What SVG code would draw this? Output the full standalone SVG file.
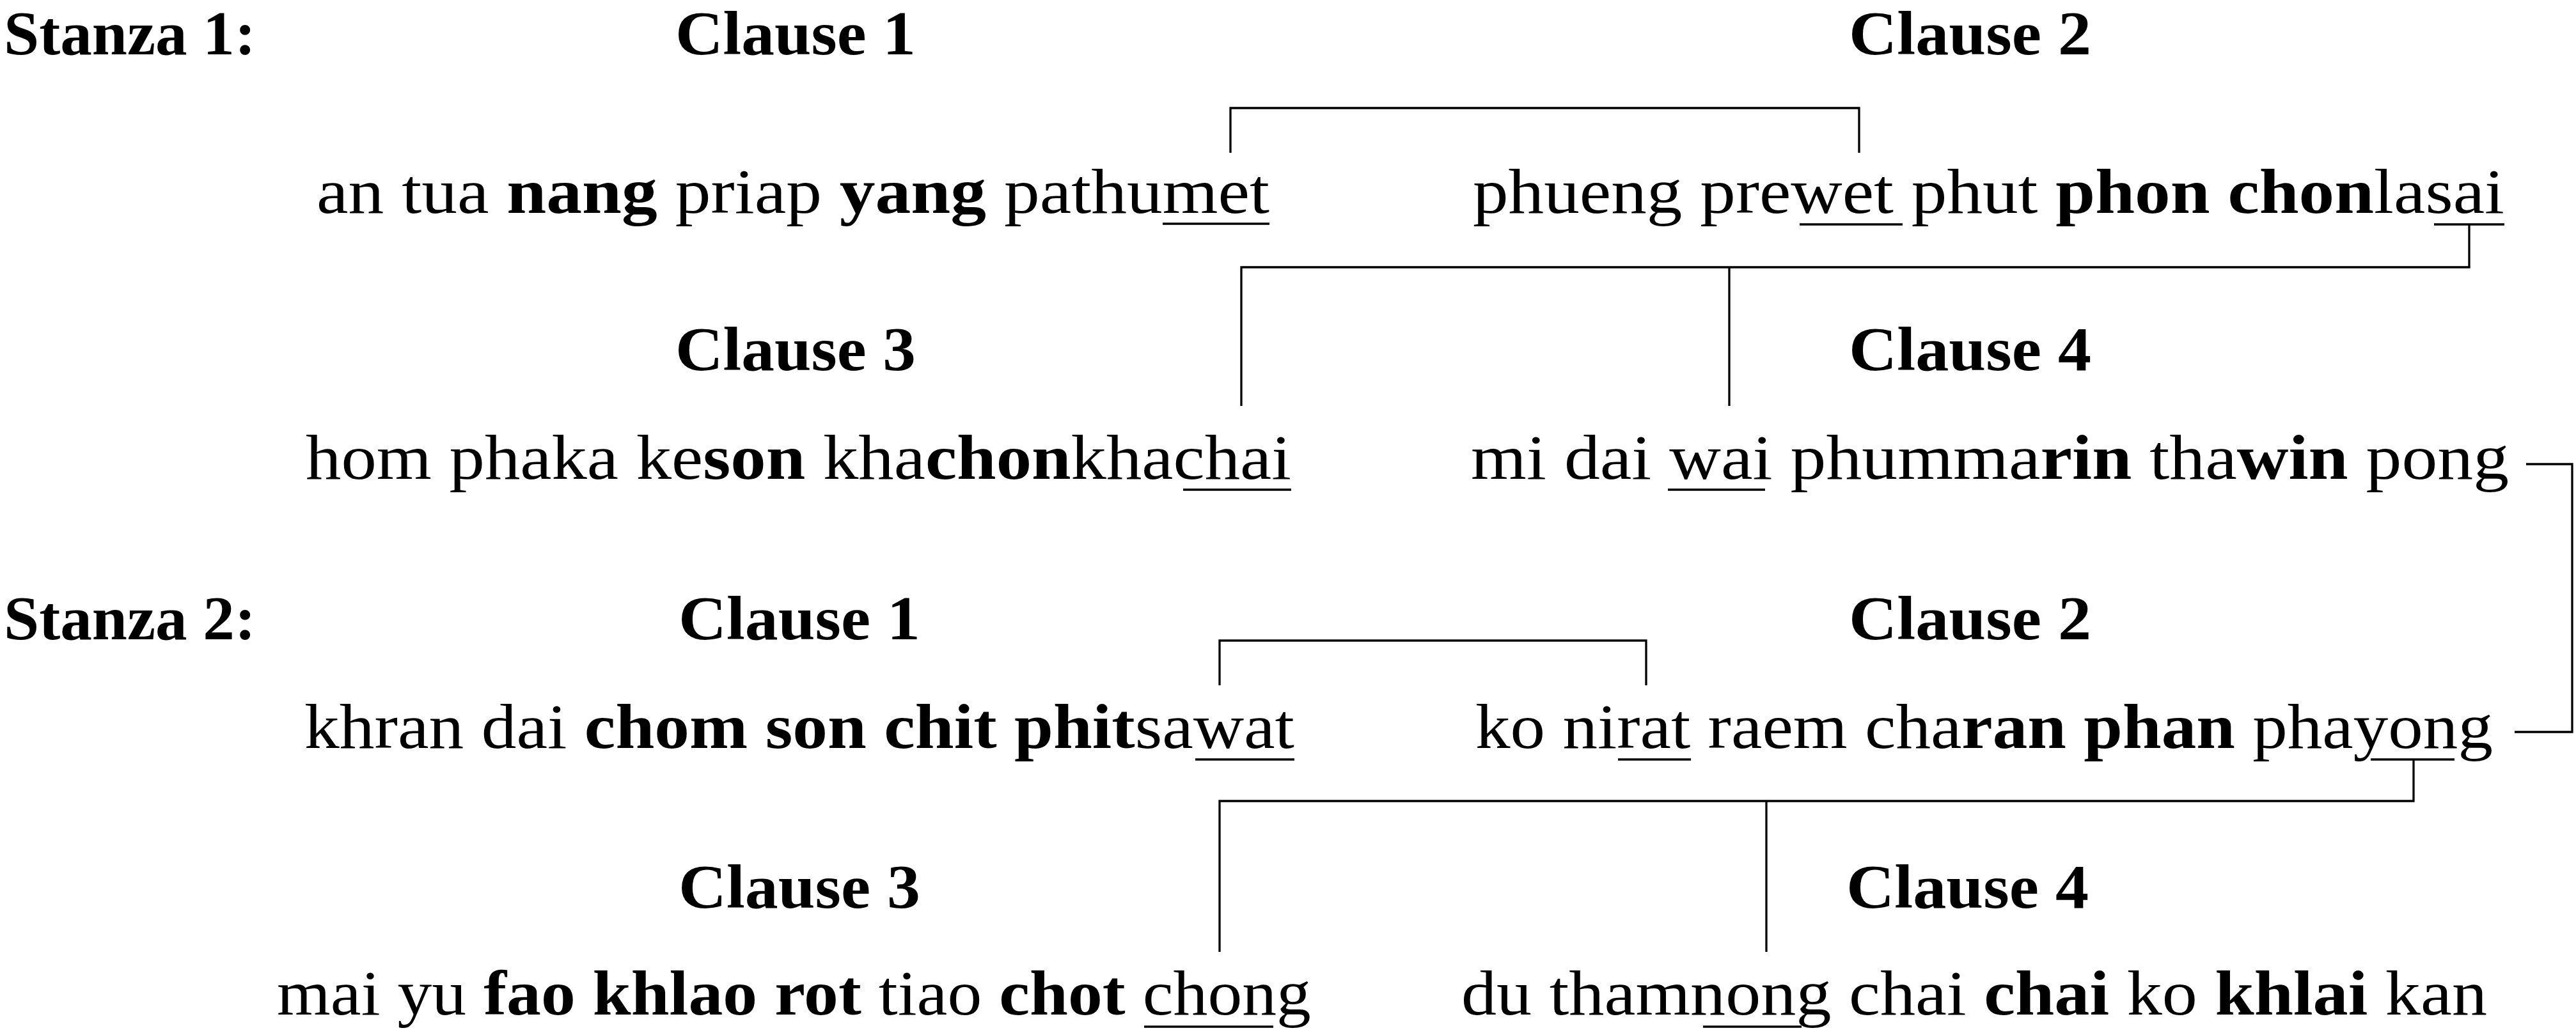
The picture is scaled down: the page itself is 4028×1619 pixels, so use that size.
<svg xmlns="http://www.w3.org/2000/svg" width="4028" height="1619" viewBox="0 0 4028 1619">
<style>
text{font-family:"Liberation Serif","Times New Roman",serif;fill:#000}
.h{font-size:98px;font-weight:bold}
.t{font-size:100px}
.b{font-weight:bold}
.ln{fill:none;stroke:#000;stroke-width:3.3;stroke-linecap:butt;stroke-linejoin:miter}
.ul{stroke:#000;stroke-width:3.5}
</style>
<rect width="4028" height="1619" fill="#fff"/>
<g id="headings">
<text class="h" x="6" y="85" textLength="394" lengthAdjust="spacingAndGlyphs">Stanza 1:</text>
<text class="h" x="1056" y="85" textLength="376" lengthAdjust="spacingAndGlyphs">Clause 1</text>
<text class="h" x="2891" y="85" textLength="379" lengthAdjust="spacingAndGlyphs">Clause 2</text>
<text class="h" x="1056" y="579" textLength="376" lengthAdjust="spacingAndGlyphs">Clause 3</text>
<text class="h" x="2891" y="579" textLength="379" lengthAdjust="spacingAndGlyphs">Clause 4</text>
<text class="h" x="6" y="1000" textLength="394" lengthAdjust="spacingAndGlyphs">Stanza 2:</text>
<text class="h" x="1061" y="1000" textLength="378" lengthAdjust="spacingAndGlyphs">Clause 1</text>
<text class="h" x="2891" y="1000" textLength="379" lengthAdjust="spacingAndGlyphs">Clause 2</text>
<text class="h" x="1061" y="1420" textLength="378" lengthAdjust="spacingAndGlyphs">Clause 3</text>
<text class="h" x="2887" y="1420" textLength="379" lengthAdjust="spacingAndGlyphs">Clause 4</text>
</g>
<g id="s1c1"><text class="t" x="495" y="333" textLength="1490" lengthAdjust="spacingAndGlyphs">an tua <tspan class="b">nang</tspan> priap <tspan class="b">yang</tspan> pathumet</text>
<line class="ul" x1="1818" y1="350" x2="1985" y2="350"/></g>
<g id="s1c2"><text class="t" x="2303" y="333" textLength="1613" lengthAdjust="spacingAndGlyphs">phueng prewet phut <tspan class="b">phon chon</tspan>lasai</text>
<line class="ul" x1="2814" y1="351" x2="2975" y2="351"/>
<line class="ul" x1="3806" y1="351" x2="3916" y2="351"/></g>
<g id="s1c3"><text class="t" x="478" y="749" textLength="1541" lengthAdjust="spacingAndGlyphs">hom phaka ke<tspan class="b">son</tspan> kha<tspan class="b">chon</tspan>khachai</text>
<line class="ul" x1="1850" y1="766" x2="2019" y2="766"/></g>
<g id="s1c4"><text class="t" x="2300" y="749" textLength="1623" lengthAdjust="spacingAndGlyphs">mi dai wai phumma<tspan class="b">rin</tspan> tha<tspan class="b">win</tspan> pong</text>
<line class="ul" x1="2608" y1="766" x2="2760" y2="766"/></g>
<g id="s2c1"><text class="t" x="476" y="1170" textLength="1548" lengthAdjust="spacingAndGlyphs">khran dai <tspan class="b">chom son chit phit</tspan>sawat</text>
<line class="ul" x1="1869" y1="1188" x2="2024" y2="1188"/></g>
<g id="s2c2"><text class="t" x="2307" y="1170" textLength="1591" lengthAdjust="spacingAndGlyphs">ko nirat raem cha<tspan class="b">ran phan</tspan> phayong</text>
<line class="ul" x1="2530" y1="1188" x2="2644" y2="1188"/>
<line class="ul" x1="3707" y1="1188" x2="3838" y2="1188"/></g>
<g id="s2c3"><text class="t" x="433" y="1587" textLength="1617" lengthAdjust="spacingAndGlyphs">mai yu <tspan class="b">fao khlao rot</tspan> tiao <tspan class="b">chot</tspan> chong</text>
<line class="ul" x1="1789" y1="1606" x2="1991" y2="1606"/></g>
<g id="s2c4"><text class="t" x="2285" y="1587" textLength="1604" lengthAdjust="spacingAndGlyphs">du thamnong chai <tspan class="b">chai</tspan> ko <tspan class="b">khlai</tspan> kan</text>
<line class="ul" x1="2663" y1="1606" x2="2817" y2="1606"/></g>
<g id="connectors">
<path class="ln" d="M1924,239 V169 H2907 V239"/>
<path class="ln" d="M3861,351 V418 H1941 V635 M2704,418 V635"/>
<path class="ln" d="M3950,726 H4022 V1145 H3932"/>
<path class="ln" d="M1907,1072 V1002 H2574 V1072"/>
<path class="ln" d="M3774,1188 V1253 H1907 V1489 M2762,1253 V1489"/>
</g>
</svg>
